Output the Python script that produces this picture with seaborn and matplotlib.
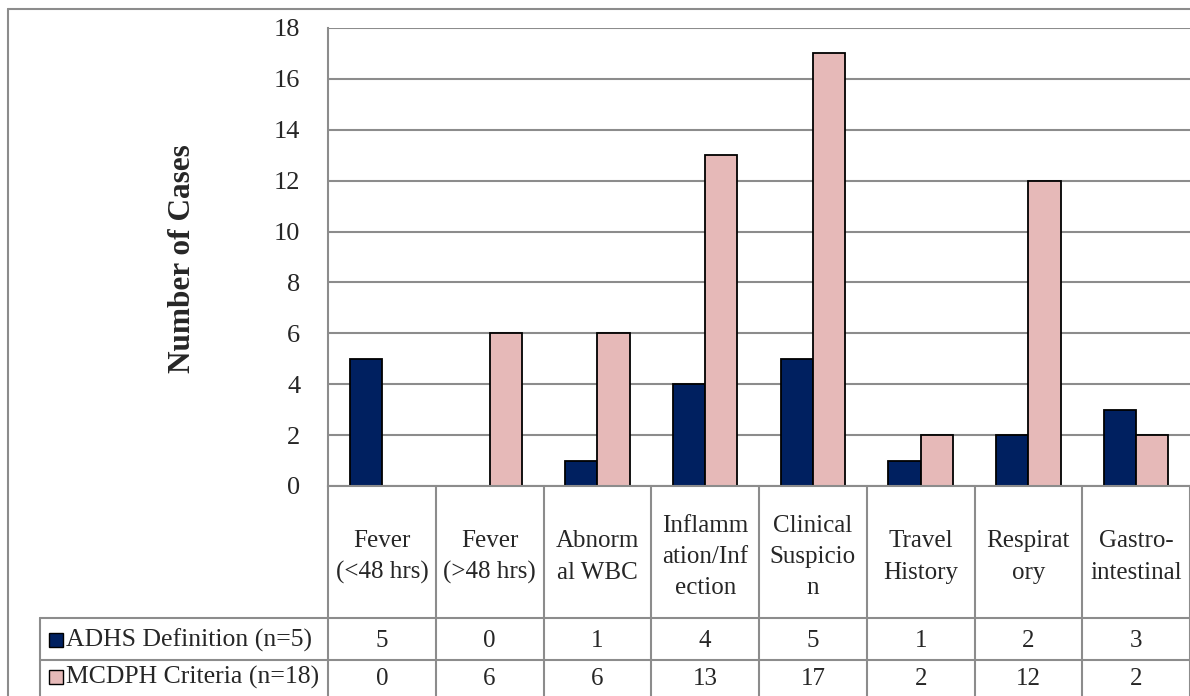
import pandas as pd
import matplotlib
matplotlib.use("Agg")
import matplotlib.pyplot as plt
import seaborn as sns
from matplotlib.lines import Line2D
from matplotlib.patches import Rectangle
from matplotlib.transforms import Affine2D, blended_transform_factory


# the data
categories = ["Fever\n(<48 hrs)", "Fever\n(>48 hrs)", "Abnorm\nal WBC",
              "Inflamm\nation/Inf\nection", "Clinical\nSuspicio\nn",
              "Travel\nHistory", "Respirat\nory", "Gastro-\nintestinal"]
adhs_name  = "ADHS Definition (n=5)"
mcdph_name = "MCDPH Criteria (n=18)"
adhs  = [5, 0, 1, 4, 5, 1, 2, 3]
mcdph = [0, 6, 6, 13, 17, 2, 12, 2]
yticks = list(range(0, 19, 2))

colors = {adhs_name: "#002060", mcdph_name: "#E6B9B8"}
line_col = "#8c8c8c"

df = pd.DataFrame({
    "category": categories * 2,
    "series": [adhs_name] * len(adhs) + [mcdph_name] * len(mcdph),
    "cases": adhs + mcdph,
})

sns.set_style("white")
plt.rcParams["font.family"] = ["Liberation Serif", "DejaVu Serif"]

W, H = 1190, 696
fig = plt.figure(figsize=(W / 100, H / 100), dpi=100)
ax = fig.add_axes([328 / W, 1 - 486 / H, 1 - 328 / W, (486 - 28) / H])

sns.barplot(data=df, x="category", y="cases", hue="series",
            order=categories, hue_order=[adhs_name, mcdph_name],
            palette=colors, saturation=1, width=0.6,
            edgecolor="black", linewidth=1.3, errorbar=None,
            legend=False, ax=ax)

# hide the zero-height bars (excel draws nothing there)
for p in ax.patches:
    if p.get_height() == 0:
        p.set_visible(False)

ax.set_xlim(-0.5, len(categories) - 0.5)
ax.set_ylim(0, 18)
ax.set_yticks(yticks)
ax.set_xticks([])
ax.set_xlabel("")
ax.set_ylabel("")
ax.tick_params(axis="y", length=0, pad=20, labelsize=19)
ax.yaxis.grid(True, color=line_col, lw=1.5)
ax.set_axisbelow(True)
for s in ["top", "right"]:
    ax.spines[s].set_visible(False)
for s in ["left", "bottom"]:
    ax.spines[s].set_color(line_col)
    ax.spines[s].set_linewidth(1.5)

fig.text(182 / W, 1 - 259 / H, "Number of Cases", rotation=90,
         ha="center", va="center", fontsize=22.5, fontweight="bold")

# pixel coords measured from the top-left, plus a column transform
px = Affine2D().scale(1 / W, -1 / H).translate(0, 1) + fig.transFigure
colx = blended_transform_factory(ax.transData, px)


def add_line(xs, ys, trans):
    fig.add_artist(Line2D(xs, ys, transform=trans, color=line_col,
                          lw=1.5, clip_on=False))


# data table grid
for i in range(len(categories) + 1):
    add_line([i - 0.5, i - 0.5], [486, 700], colx)
add_line([40, W], [618, 618], px)
add_line([40, W], [660, 660], px)
add_line([40, 40], [618, 700], px)

# outer chart border
add_line([8, W], [9, 9], px)
add_line([8, 8], [9, 700], px)

# table text
for i, cat in enumerate(categories):
    fig.text(i, 557, cat, transform=colx, ha="center", va="center",
             fontsize=18, linespacing=1.55)
    fig.text(i, 641, str(adhs[i]), transform=colx, ha="center",
             va="center", fontsize=18)
    fig.text(i, 679, str(mcdph[i]), transform=colx, ha="center",
             va="center", fontsize=18)

for yc, name in [(640, adhs_name), (677, mcdph_name)]:
    fig.add_artist(Rectangle((49, yc + 7), 14, -14, transform=px,
                             facecolor=colors[name], edgecolor="black",
                             lw=1))
    fig.text(66, yc, name, transform=px, ha="left", va="center",
             fontsize=18.5)

fig.savefig("out.png", dpi=100)
